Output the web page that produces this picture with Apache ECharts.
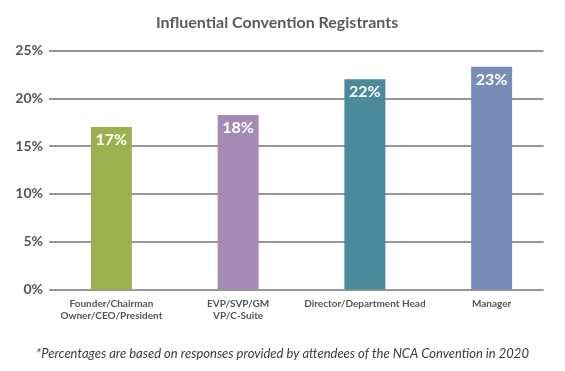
<!DOCTYPE html>
<html><head><meta charset="utf-8">
<script src="https://cdn.jsdelivr.net/npm/echarts@6/dist/echarts.min.js"></script>
<style>html,body{margin:0;padding:0;background:#fff}#c{width:565px;height:371px}</style>
</head><body><div id="c"></div>
<script>
const categories = ['Founder/Chairman\nOwner/CEO/President', 'EVP/SVP/GM\nVP/C-Suite', 'Director/Department Head', 'Manager'];
const values = [17, 18.25, 22, 23.3];
const colors = ['#9db04f', '#a38bb6', '#4b8a9b', '#788db7'];
const yTicks = [0, 5, 10, 15, 20, 25];
const titleText = 'Influential Convention Registrants';
const noteText = '*Percentages are based on responses provided by attendees of the NCA Convention in 2020';

const FONT = 'Lato';
const chart = echarts.init(document.getElementById('c'), null, {renderer: 'canvas'});
chart.setOption({
  animation: false,
  title: [
    {text: titleText, left: 151, top: 10, textStyle: {fontFamily: FONT, fontSize: 16, fontWeight: 'bold', color: '#5b5b5b'}},
    {text: noteText, left: 'center', top: 342, textStyle: {fontFamily: FONT, fontSize: 13, fontStyle: 'italic', fontWeight: 'normal', color: '#3a3a3a'}}
  ],
  grid: [
    {left: 49, right: 21.5, top: 50.5, bottom: 81.5},
    {left: 48, right: 10, top: 50.5, bottom: 81.5}
  ],
  xAxis: [
    {type: 'category', gridIndex: 0, data: categories, show: false},
    {type: 'category', gridIndex: 1, data: categories,
     axisLine: {show: false}, axisTick: {show: false},
     axisLabel: {fontFamily: FONT, fontSize: 10, fontWeight: 'bold', color: '#555', margin: 8, lineHeight: 12, interval: 0}}
  ],
  yAxis: [
    {type: 'value', gridIndex: 0, min: yTicks[0], max: yTicks[yTicks.length - 1], interval: 5,
     axisLine: {show: false}, axisTick: {show: false},
     axisLabel: {fontFamily: FONT, fontSize: 14, fontWeight: 'bold', color: '#555', margin: 6, formatter: v => v + '%'},
     splitLine: {lineStyle: {color: '#737373', width: 1.6}}},
    {type: 'value', gridIndex: 1, min: yTicks[0], max: yTicks[yTicks.length - 1], interval: 5, show: false, splitLine: {show: false}}
  ],
  series: [{
    type: 'bar', xAxisIndex: 1, yAxisIndex: 1, barWidth: 41,
    data: values.map((v, i) => ({value: v, itemStyle: {color: colors[i]}})),
    label: {show: true, position: 'insideTop', distance: 5, fontFamily: FONT, fontSize: 16, fontWeight: 'bold', color: '#fff',
            formatter: p => Math.round(p.value) + '%'}
  }]
});
</script></body></html>
